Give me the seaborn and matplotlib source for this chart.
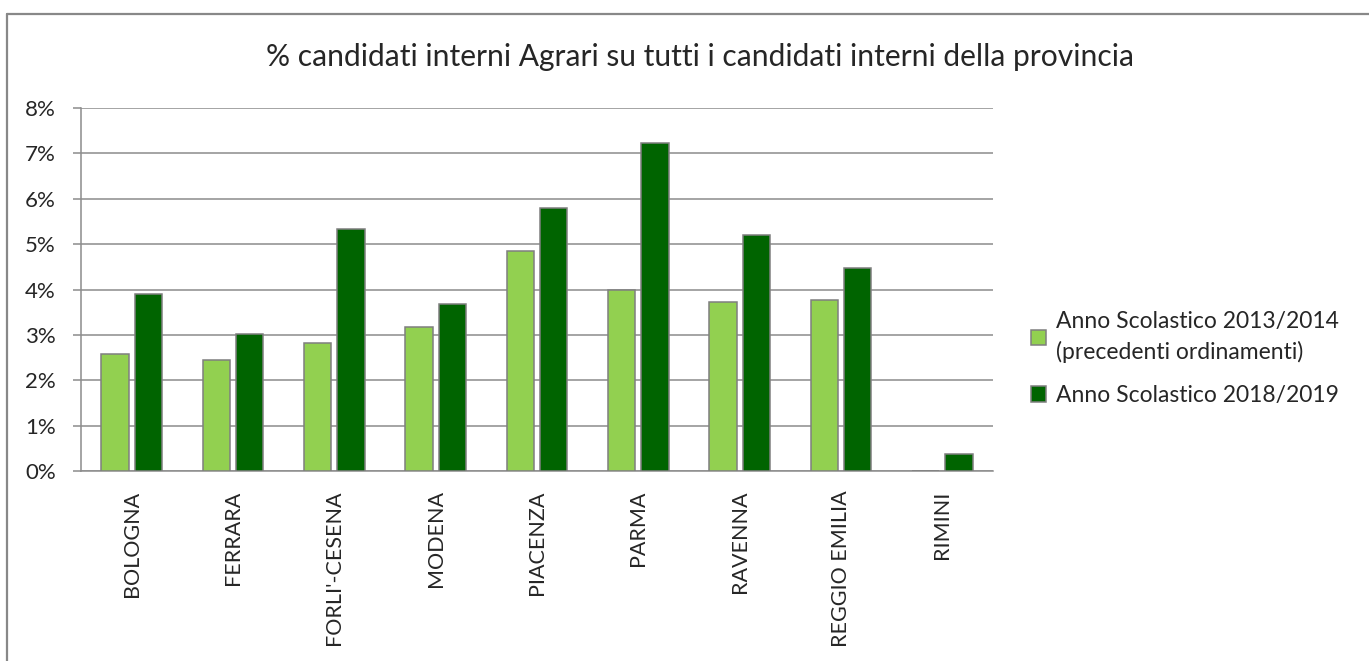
import pandas as pd
import numpy as np
import matplotlib
matplotlib.use("Agg")
import matplotlib.pyplot as plt
import seaborn as sns
from matplotlib.lines import Line2D
from matplotlib.ticker import PercentFormatter, FixedLocator

province = ["BOLOGNA", "FERRARA", "FORLI'-CESENA", "MODENA", "PIACENZA",
            "PARMA", "RAVENNA", "REGGIO EMILIA", "RIMINI"]
anno_2013 = [2.58, 2.44, 2.83, 3.17, 4.85, 3.98, 3.73, 3.77, 0.0]
anno_2018 = [3.90, 3.03, 5.34, 3.68, 5.79, 7.22, 5.21, 4.48, 0.37]
serie = ["Anno Scolastico 2013/2014\n(precedenti ordinamenti)",
         "Anno Scolastico 2018/2019"]
colori = ["#92D050", "#006400"]

df = pd.DataFrame({
    "provincia": province * 2,
    "valore": anno_2013 + anno_2018,
    "serie": [serie[0]] * len(province) + [serie[1]] * len(province),
})

sns.set_style("white")
plt.rcParams["font.family"] = ["Lato", "DejaVu Sans"]

fig = plt.figure(figsize=(13.69, 6.61), dpi=100)
ax = fig.add_axes([81/1369, 1 - 471/661, (993 - 81)/1369, (471 - 108)/661])

sns.barplot(data=df, x="provincia", y="valore", hue="serie", palette=colori,
            width=0.66, gap=0.18, edgecolor="#7f7f7f", linewidth=1.1,
            saturation=1, ax=ax, zorder=3)

ax.set_ylim(0, 8)
ax.set_xlim(-0.5, len(province) - 0.5)
ax.yaxis.set_major_locator(FixedLocator(np.arange(0, 9, 1)))
ax.yaxis.set_major_formatter(PercentFormatter(decimals=0))
ax.grid(axis="y", color="#8c8c8c", linewidth=1.1, zorder=0)
ax.set_axisbelow(True)

for s in ["top", "right"]:
    ax.spines[s].set_visible(False)
for s in ["left", "bottom"]:
    ax.spines[s].set_color("#8c8c8c")
    ax.spines[s].set_linewidth(1.1)

ax.set_xlabel("")
ax.set_ylabel("")
ax.tick_params(axis="x", which="major", length=0, pad=14, labelsize=15.5,
               rotation=90)
ax.set_xticks(np.arange(len(province) + 1) - 0.5, minor=True)
ax.tick_params(axis="x", which="minor", length=6, color="#8c8c8c", width=1.1)
ax.tick_params(axis="y", length=6, color="#8c8c8c", width=1.1, labelsize=16,
               pad=12, left=True)
for lab in ax.get_xticklabels():
    lab.set_va("top")

leg = ax.legend(loc="center left", bbox_to_anchor=(1.019, 0.31), frameon=False,
                fontsize=16.5, handlelength=0.65, handleheight=0.65,
                handletextpad=0.45, labelspacing=0.95)
for t in leg.get_texts():
    t.set_linespacing(1.5)

fig.text(700/1369, 1 - 57/661,
         "% candidati interni Agrari su tutti i candidati interni della provincia",
         ha="center", va="center", fontsize=21.6)

fig.add_artist(Line2D([7/1369, 1], [1 - 14/661, 1 - 14/661],
                      transform=fig.transFigure, color="#888888", linewidth=1.6))
fig.add_artist(Line2D([7/1369, 7/1369], [0, 1 - 14/661],
                      transform=fig.transFigure, color="#888888", linewidth=1.6))

fig.savefig("out.png", dpi=100)
